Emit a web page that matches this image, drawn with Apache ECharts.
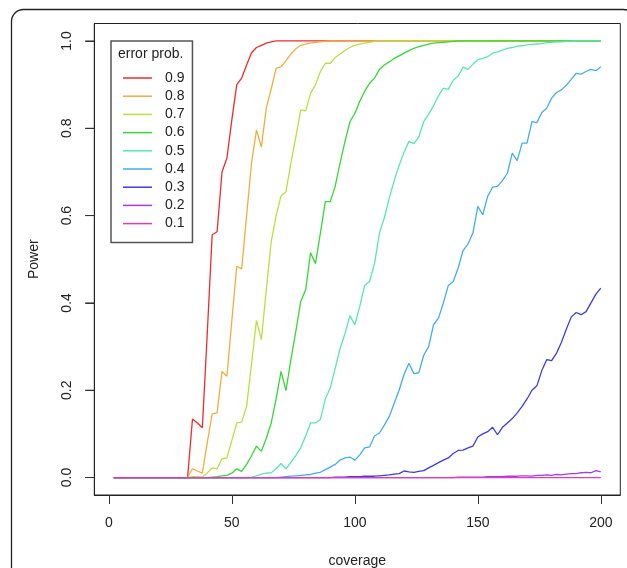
<!DOCTYPE html>
<html>
<head>
<meta charset="utf-8">
<script src="https://cdn.jsdelivr.net/npm/echarts@6/dist/echarts.min.js"></script>
<style>
html,body{margin:0;padding:0;background:#fff;}
#c{width:627px;height:568px;}
</style>
</head>
<body>
<div id="c"></div>
<script>
var coverage = [2,4,6,8,10,12,14,16,18,20,22,24,26,28,30,32,34,36,38,40,42,44,46,48,50,52,54,56,58,60,62,64,66,68,70,72,74,76,78,80,82,84,86,88,90,92,94,96,98,100,102,104,106,108,110,112,114,116,118,120,122,124,126,128,130,132,134,136,138,140,142,144,146,148,150,152,154,156,158,160,162,164,166,168,170,172,174,176,178,180,182,184,186,188,190,192,194,196,198,200];

var seriesNames = ['0.9','0.8','0.7','0.6','0.5','0.4','0.3','0.2','0.1'];
var seriesColors = ['#ee2b2b','#f3ad3c','#b4e33c','#35d935','#58e6b4','#42aef0','#3c3ce6','#a43cec','#e33cb6'];

var p09 = [0,0,0,0,0,0,0,0,0,0,0,0,0,0,0,0,
  0.134,0.125,0.114,0.33,0.556,0.563,0.70,0.732,0.82,0.90,0.915,0.945,0.973,0.985,0.99,0.995,0.998,
  1,1,1,1,1,1,1,1,1,1,1,1,1,1,1,1,1,1,1,1,1,1,1,1,1,1,1,1,1,1,1,1,1,1,1,1,1,1,1,1,1,1,1,1,1,1,1,1,1,1,1,1,1,1,1,1,1,1,1,1,1,1,1,1,1,1,1];

var p08 = [0,0,0,0,0,0,0,0,0,0,0,0,0,0,0,0,
  0.02,0.015,0.01,0.08,0.146,0.148,0.243,0.232,0.36,0.484,0.478,0.60,0.72,0.796,0.757,0.846,0.89,0.937,0.941,0.955,0.97,0.982,0.99,0.993,0.995,0.997,0.998,0.999,
  1,1,1,1,1,1,1,1,1,1,1,1,1,1,1,1,1,1,1,1,1,1,1,1,1,1,1,1,1,1,1,1,1,1,1,1,1,1,1,1,1,1,1,1,1,1,1,1,1,1,1,1,1,1,1,1];

var p07 = [0,0,0,0,0,0,0,0,0,0,0,0,0,0,0,0,
  0.002,0.002,0.001,0.01,0.022,0.02,0.043,0.045,0.085,0.125,0.127,0.163,0.26,0.36,0.316,0.43,0.54,0.60,0.645,0.655,0.72,0.78,0.842,0.84,0.88,0.90,0.93,0.949,0.949,0.962,0.97,0.978,0.985,0.99,0.993,0.995,0.997,0.999,
  1,1,1,1,1,1,1,1,1,1,1,1,1,1,1,1,1,1,1,1,1,1,1,1,1,1,1,1,1,1,1,1,1,1,1,1,1,1,1,1,1,1,1,1,1,1];

var p06 = [0,0,0,0,0,0,0,0,0,0,0,0,0,0,0,0,0,0,0,0,
  0.001,0.002,0.004,0.005,0.01,0.02,0.014,0.03,0.05,0.072,0.06,0.09,0.125,0.18,0.243,0.199,0.27,0.335,0.403,0.43,0.515,0.49,0.56,0.632,0.632,0.667,0.72,0.77,0.815,0.834,0.862,0.885,0.903,0.915,0.935,0.945,0.952,0.96,0.966,0.972,0.978,0.983,0.987,0.99,0.993,0.995,0.996,0.997,0.998,0.999,
  1,1,1,1,1,1,1,1,1,1,1,1,1,1,1,1,1,1,1,1,1,1,1,1,1,1,1,1,1,1];

var p05 = [0,0,0,0,0,0,0,0,0,0,0,0,0,0,0,0,0,0,0,0,0,0,0,0,0,0,0,0,
  0.001,0.004,0.008,0.01,0.011,0.02,0.032,0.02,0.035,0.05,0.068,0.095,0.125,0.125,0.133,0.18,0.205,0.25,0.295,0.33,0.371,0.35,0.392,0.44,0.449,0.49,0.56,0.595,0.64,0.68,0.715,0.745,0.77,0.765,0.78,0.815,0.832,0.852,0.874,0.892,0.889,0.91,0.92,0.94,0.935,0.947,0.957,0.96,0.964,0.972,0.975,0.979,0.983,0.985,0.988,0.989,0.991,0.992,0.993,0.994,0.996,0.997,0.998,0.998,0.999,0.999,
  1,1,1,1,1,1];

var p04 = [0,0,0,0,0,0,0,0,0,0,0,0,0,0,0,0,0,0,0,0,0,0,0,0,0,0,0,0,0,0,0,0,0,0,
  0.001,0.002,0.003,0.004,0.005,0.006,0.007,0.01,0.012,0.018,0.024,0.03,0.04,0.045,0.047,0.04,0.052,0.068,0.07,0.095,0.102,0.12,0.14,0.17,0.2,0.236,0.262,0.238,0.24,0.28,0.30,0.35,0.365,0.40,0.44,0.449,0.48,0.52,0.535,0.56,0.621,0.602,0.644,0.665,0.667,0.68,0.697,0.743,0.726,0.766,0.766,0.815,0.813,0.836,0.846,0.869,0.882,0.888,0.899,0.912,0.926,0.924,0.93,0.935,0.932,0.941];

var p03 = [0,0,0,0,0,0,0,0,0,0,0,0,0,0,0,0,0,0,0,0,0,0,0,0,0,0,0,0,0,0,0,0,0,0,0,0,0,0,0,0,0,0,0,0,0,
  0.001,0.001,0.001,0.002,0.002,0.002,0.003,0.003,0.003,0.004,0.005,0.006,0.008,0.009,0.015,0.013,0.012,0.014,0.016,0.022,0.028,0.034,0.04,0.045,0.055,0.062,0.063,0.068,0.072,0.093,0.1,0.105,0.115,0.098,0.115,0.125,0.135,0.148,0.163,0.18,0.2,0.21,0.245,0.27,0.268,0.285,0.31,0.34,0.368,0.378,0.373,0.38,0.40,0.42,0.434];

var p02 = [0,0,0,0,0,0,0,0,0,0,0,0,0,0,0,0,0,0,0,0,0,0,0,0,0,0,0,0,0,0,0,0,0,0,0,0,0,0,0,0,0,0,0,0,0,0,0,0,0,0,0,0,0,0,0,0,0,0,0,0,0,0,0,0,0,0,0,0,0,0,
  0.001,0.001,0.001,0.001,0.001,0.001,0.002,0.002,0.002,0.002,0.003,0.003,0.003,0.004,0.004,0.003,0.005,0.005,0.006,0.005,0.007,0.006,0.008,0.009,0.009,0.011,0.012,0.011,0.016,0.013];

var p01 = [0,0,0,0,0,0,0,0,0,0,0,0,0,0,0,0,0,0,0,0,0,0,0,0,0,0,0,0,0,0,0,0,0,0,0,0,0,0,0,0,0,0,0,0,0,0,0,0,0,0,
  0,0,0,0,0,0,0,0,0,0,0,0,0,0,0,0,0,0,0,0,0,0,0,0,0,0,0,0,0,0,0,0,0,0,0,0,0,0,0,0,0,0,0,0,0,0,0,0,0,0];

var xTicks = [0,50,100,150,200];
var yTicks = [0,0.2,0.4,0.6,0.8,1.0];

var allSeries = [p09,p08,p07,p06,p05,p04,p03,p02,p01];
var FONT = 'Liberation Sans, Arial, Helvetica, sans-serif';
var X_MIN = -5.92, X_MAX = 207.92;

var chart = echarts.init(document.getElementById('c'), null, {renderer:'canvas'});
var series = allSeries.map(function(vals, k){
  return {
    name: seriesNames[k],
    type: 'line',
    data: coverage.map(function(x,i){ return [x, vals[i]]; }),
    symbol: 'none',
    showSymbol: false,
    lineStyle: {width: 1.3, color: seriesColors[k]},
    itemStyle: {color: seriesColors[k]},
    emphasis: {disabled: true},
    silent: true
  };
});

chart.setOption({
  animation: false,
  backgroundColor: '#fff',
  grid: {left: 94.3, top: 23.5, width: 526, height: 471.5, show: true, borderColor: '#222', borderWidth: 1, backgroundColor: 'transparent', containLabel: false, outerBoundsMode: 'none'},
  xAxis: {
    type: 'value', min: X_MIN, max: X_MAX,
    axisLine: {show: true, onZero: false, lineStyle: {color: '#222', width: 1}},
    axisTick: {show: true, inside: false, length: 9, customValues: xTicks, lineStyle: {color: '#333', width: 1}},
    axisLabel: {customValues: xTicks, margin: 20.7, fontSize: 14, color: '#222', fontFamily: FONT},
    splitLine: {show: false},
    name: 'coverage', nameLocation: 'middle', nameGap: 59,
    nameTextStyle: {fontSize: 14, color: '#222', fontFamily: FONT}
  },
  yAxis: {
    type: 'value', min: -0.04, max: 1.04,
    axisLine: {show: true, onZero: false, lineStyle: {color: '#222', width: 1}},
    axisTick: {show: true, inside: false, length: 9, customValues: yTicks, lineStyle: {color: '#333', width: 1}},
    axisLabel: {customValues: yTicks, rotate: 90, margin: 20, fontSize: 14, color: '#222', fontFamily: FONT,
      formatter: function(v){ return v.toFixed(1); }},
    splitLine: {show: false},
    name: 'Power', nameLocation: 'middle', nameGap: 53, nameRotate: 90,
    nameTextStyle: {fontSize: 14, color: '#222', fontFamily: FONT}
  },
  legend: {
    orient: 'vertical', left: 111, top: 41,
    padding: [30, 8, 12, 12],
    icon: 'rect',
    itemWidth: 29, itemHeight: 1.5, itemGap: 4.2,
    borderColor: '#555', borderWidth: 1.5,
    backgroundColor: '#fff',
    selectedMode: false,
    data: seriesNames,
    textStyle: {fontSize: 14, lineHeight: 14, color: '#222', fontFamily: FONT, padding: [0,0,0,8]}
  },
  graphic: [
    {type: 'rect', id: 'frame', left: 9, top: 7, z: 100, silent: true,
      shape: {x: 0, y: 0, width: 624, height: 600, r: 12},
      style: {fill: 'none', stroke: '#222', lineWidth: 1.3}},
    {type: 'text', id: 'ltitle', left: 118, top: 47, z: 100, silent: true,
      style: {text: 'error prob.', fontSize: 14, fill: '#222', fontFamily: FONT}}
  ],
  series: series
});

// y-axis tick marks positioned through the axis scale
var axisX = chart.convertToPixel({xAxisIndex: 0}, X_MIN);
var tickEls = yTicks.map(function(v, i){
  var py = chart.convertToPixel({yAxisIndex: 0}, v);
  return {type: 'line', id: 'ytick' + i, z: 50, silent: true,
    shape: {x1: axisX - 9, y1: py, x2: axisX, y2: py},
    style: {stroke: '#333', lineWidth: 1}};
});
chart.setOption({graphic: tickEls});
</script>
</body>
</html>
